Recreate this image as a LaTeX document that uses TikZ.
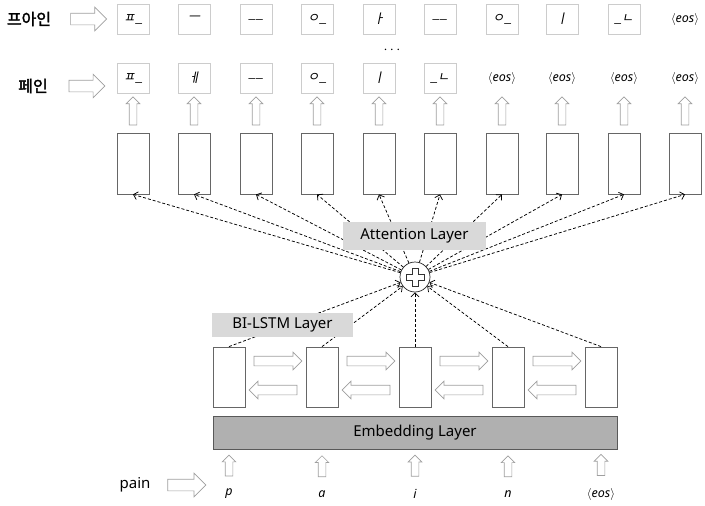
\documentclass[tikz,border=0pt]{standalone}
\usepackage{fontspec}
\setmainfont{Noto Sans}
\newfontfamily\krfont[AutoFakeBold=2]{Noto Sans CJK KR}
\newfontfamily\jamofont[FakeSlant=0.2]{Noto Sans CJK KR}
\usetikzlibrary{shapes.arrows,arrows.meta}
\newcommand{\eostag}{{\normalfont\itshape$\langle$eos$\rangle$}}

\tikzset{
  charbox/.style={draw=gray!40, minimum width=32pt, minimum height=30pt, inner sep=0pt,
    font=\jamofont\fontsize{13}{14}\selectfont},
  eosbox/.style={minimum width=32pt, minimum height=30pt, inner sep=0pt,
    font=\fontsize{12.5}{14}\selectfont},
  cell/.style={draw=gray!80!black, line width=0.8pt, minimum width=32pt, minimum height=61pt, inner sep=0pt},
  hollow/.style={single arrow, draw=gray!75, line width=0.7pt, fill=white, inner xsep=0pt,
    inner ysep=3.5pt, single arrow head extend=3pt, single arrow tip angle=90,
    minimum height=#1, text height=0pt, text depth=0pt, sloped, allow upside down},
  hollow/.default=28pt,
  wide/.style={inner ysep=5.5pt, single arrow head extend=6pt},
  attn/.style={densely dashed, line width=0.75pt, -{Straight Barb[length=4pt,width=8pt]}},
  layerbox/.style={fill=gray!30, inner sep=0pt, font=\fontsize{15}{17}\selectfont},
  sidelabel/.style={font=\krfont\bfseries\fontsize{16}{18}\selectfont}
}

\begin{document}
\begin{tikzpicture}[x=1pt,y=-1pt]
\useasboundingbox (0,0) rectangle (705,506);
% target rows
\node[sidelabel] (src) at (29,19) {프아인};
\node[sidelabel] (tgt) at (33,86) {페인};
\foreach \x/\t/\s [count=\i] in {133/ㅍ\_/charbox, 194/ㅡ/charbox, 256/\_\_/charbox, 317/ㅇ\_/charbox,
    379/ㅏ/charbox, 440/\_\_/charbox, 502/ㅇ\_/charbox, 562/ㅣ/charbox, 624/\_ㄴ/charbox, 685/\eostag/eosbox}
  \node[\s] (out\i) at (\x,19) {\t};
\foreach \x/\t/\s [count=\i] in {133/ㅍ\_/charbox, 194/ㅔ/charbox, 256/\_\_/charbox, 317/ㅇ\_/charbox,
    379/ㅣ/charbox, 440/\_ㄴ/charbox, 502/\eostag/eosbox, 562/\eostag/eosbox, 624/\eostag/eosbox, 685/\eostag/eosbox}
  \node[\s] (pred\i) at (\x,78) {\t};
\node[font=\fontsize{14}{16}\selectfont] (dots) at (392,50) {$\cdots$};
\path (src.east) -- (src.east -| out1.west) node[midway, hollow=36pt, wide] {};
\path (tgt.east) -- (tgt.east -| pred1.west) node[midway, hollow=36pt, wide] {};

% decoder cells
\foreach \x [count=\i] in {133,194,256,317,379,440,502,562,624,685} {
  \node[cell] (dec\i) at (\x,163.5) {};
  \path (dec\i.north) -- (pred\i.south) node[midway, hollow] {};
}

% attention
\node[circle, draw=gray!30!black, line width=0.7pt, fill=white, minimum size=30pt, inner sep=0pt] (plus) at (415,277) {};
\draw[gray!40!black, line width=0.6pt, shift={(plus.center)}]
  (-3,-9) -- (3,-9) -- (3,-3) -- (9,-3) -- (9,3) -- (3,3) -- (3,9)
  -- (-3,9) -- (-3,3) -- (-9,3) -- (-9,-3) -- (-3,-3) -- cycle;

% encoder cells
\foreach \x [count=\i] in {229,322,415,508,601}
  \node[cell, minimum height=60pt] (enc\i) at (\x,377) {};
\foreach \i [evaluate=\i as \j using int(\i+1)] in {1,...,4} {
  \path ([yshift=16pt]enc\i.east) -- ([yshift=16pt]enc\j.west) node[midway, hollow=48pt, inner ysep=4.5pt, single arrow head extend=4pt] {};
  \path ([yshift=-13pt]enc\j.west) -- ([yshift=-13pt]enc\i.east) node[midway, hollow=48pt, inner ysep=4.5pt, single arrow head extend=4pt] {};
}

\foreach \i in {1,...,10}
  \draw[attn] (plus) -- (dec\i.south);
\foreach \i in {1,...,5}
  \draw[attn] (enc\i.north) -- (plus);

\node[layerbox, minimum width=143pt, minimum height=28pt] (attlabel) at (414.5,236) {Attention Layer};
\node[layerbox, minimum width=141pt, minimum height=24pt] (lstmlabel) at (282.5,325) {BI-LSTM Layer};

% embedding and input
\node[draw=gray!70!black, line width=0.7pt, fill=gray!62, minimum width=404pt, minimum height=33pt,
  font=\fontsize{15}{17}\selectfont] (emb) at (415,432.5) {Embedding Layer};
\foreach \x/\t [count=\i] in {229/p, 322/a, 415/i, 508/n, 601/\eostag} {
  \node[font=\fontsize{12.5}{14}\selectfont\itshape] (in\i) at (\x,494) {\t};
  \path (in\i.north) -- (in\i.north |- emb.south) node[midway, hollow=21pt] {};
}
\node[font=\fontsize{15}{17}\selectfont] (word) at (135,485) {pain};
\path (word.east) -- (word.east -| in1.west) node[midway, hollow=38pt, wide, xshift=-4pt] {};
\end{tikzpicture}
\end{document}
